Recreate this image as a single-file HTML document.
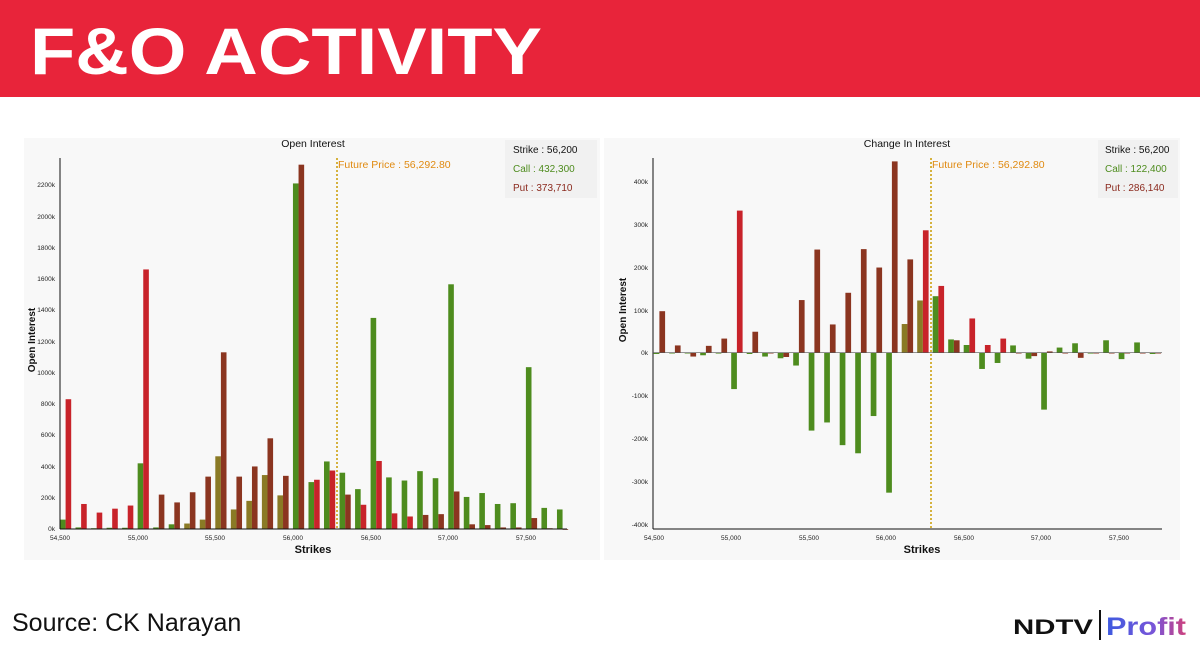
<!DOCTYPE html>
<html><head><meta charset="utf-8"><style>
html,body{margin:0;padding:0;background:#fff;}
svg{display:block;font-family:"Liberation Sans",sans-serif;}
</style></head><body>
<svg id="s" width="1200" height="650" viewBox="0 0 1200 650" xmlns="http://www.w3.org/2000/svg">
<rect x="0" y="0" width="1200" height="97" fill="#e8243a"/>
<text x="30" y="74" font-size="66" font-weight="bold" fill="#fff" textLength="512" lengthAdjust="spacingAndGlyphs">F&amp;O ACTIVITY</text>

<rect x="24" y="138" width="576" height="422" fill="#f8f8f8"/>
<rect x="604" y="138" width="576" height="422" fill="#f8f8f8"/>
<rect x="505" y="140" width="92" height="58" fill="#f1f1f1"/>
<rect x="1098" y="140" width="80" height="58" fill="#f1f1f1"/>

<text x="313" y="147" font-size="10.5" text-anchor="middle" fill="#111">Open Interest</text>
<text x="907" y="147" font-size="10.5" text-anchor="middle" fill="#111">Change In Interest</text>

<text x="513" y="153" font-size="10" fill="#111">Strike : 56,200</text>
<text x="513" y="172" font-size="10" fill="#4e8c1e">Call : 432,300</text>
<text x="513" y="191" font-size="10" fill="#8b2a1e">Put : 373,710</text>
<text x="1105" y="153" font-size="10" fill="#111">Strike : 56,200</text>
<text x="1105" y="172" font-size="10" fill="#4e8c1e">Call : 122,400</text>
<text x="1105" y="191" font-size="10" fill="#8b2a1e">Put : 286,140</text>

<text x="338" y="168" font-size="10.5" fill="#e08a10">Future Price : 56,292.80</text>
<text x="932" y="168" font-size="10.5" fill="#e08a10">Future Price : 56,292.80</text>

<g id="bars"></g>

<!-- left axes -->
<line x1="60" y1="158" x2="60" y2="529" stroke="#111" stroke-width="1"/>
<line x1="60" y1="529" x2="567" y2="529" stroke="#111" stroke-width="1"/>
<g font-size="6.5" fill="#222" text-anchor="end">
<text x="55" y="531">0k</text><text x="55" y="500">200k</text><text x="55" y="469">400k</text><text x="55" y="437">600k</text><text x="55" y="406">800k</text><text x="55" y="375">1000k</text><text x="55" y="344">1200k</text><text x="55" y="312">1400k</text><text x="55" y="281">1600k</text><text x="55" y="250">1800k</text><text x="55" y="219">2000k</text><text x="55" y="187">2200k</text>
</g>
<g font-size="6.5" fill="#222" text-anchor="middle">
<text x="60" y="540">54,500</text><text x="138" y="540">55,000</text><text x="215" y="540">55,500</text><text x="293" y="540">56,000</text><text x="371" y="540">56,500</text><text x="448" y="540">57,000</text><text x="526" y="540">57,500</text>
</g>
<text x="313" y="553" font-size="11" font-weight="bold" text-anchor="middle" fill="#111">Strikes</text>
<text transform="translate(35,340) rotate(-90)" font-size="10" font-weight="bold" text-anchor="middle" fill="#111">Open Interest</text>

<!-- right axes -->
<line x1="653" y1="158" x2="653" y2="529" stroke="#111" stroke-width="1"/>
<line x1="653" y1="529" x2="1162" y2="529" stroke="#111" stroke-width="1"/>
<line x1="653" y1="352.7" x2="1162" y2="352.7" stroke="#555" stroke-width="0.6"/>
<g font-size="6.5" fill="#222" text-anchor="end">
<text x="648" y="184">400k</text><text x="648" y="227">300k</text><text x="648" y="270">200k</text><text x="648" y="313">100k</text><text x="648" y="355">0k</text><text x="648" y="398">-100k</text><text x="648" y="441">-200k</text><text x="648" y="484">-300k</text><text x="648" y="527">-400k</text>
</g>
<g font-size="6.5" fill="#222" text-anchor="middle">
<text x="654" y="540">54,500</text><text x="731" y="540">55,000</text><text x="809" y="540">55,500</text><text x="886" y="540">56,000</text><text x="964" y="540">56,500</text><text x="1041" y="540">57,000</text><text x="1119" y="540">57,500</text>
</g>
<text x="922" y="553" font-size="11" font-weight="bold" text-anchor="middle" fill="#111">Strikes</text>
<text transform="translate(626,310) rotate(-90)" font-size="10" font-weight="bold" text-anchor="middle" fill="#111">Open Interest</text>

<line x1="337" y1="158" x2="337" y2="529" stroke="#c99a00" stroke-width="1.5" stroke-dasharray="2,2"/>
<line x1="931" y1="158" x2="931" y2="529" stroke="#c99a00" stroke-width="1.5" stroke-dasharray="2,2"/>

<text x="12" y="631" font-size="25" fill="#111">Source: CK Narayan</text>
<defs><linearGradient id="pg" x1="0" x2="1"><stop offset="0" stop-color="#3d5be0"/><stop offset="0.6" stop-color="#7a55d8"/><stop offset="1" stop-color="#d0407a"/></linearGradient></defs>
<text x="1013" y="634" font-size="21" font-weight="bold" fill="#111" textLength="80" lengthAdjust="spacingAndGlyphs">NDTV</text>
<rect x="1099" y="610" width="2" height="30" fill="#111"/>
<text x="1106" y="635" font-size="25" font-weight="bold" fill="url(#pg)" textLength="80" lengthAdjust="spacingAndGlyphs">Profit</text>
</svg>
<script>
(function(){
var ns="http://www.w3.org/2000/svg",g=document.getElementById("bars");
function r(x,y,w,h,c){var e=document.createElementNS(ns,"rect");e.setAttribute("x",x);e.setAttribute("y",y);e.setAttribute("width",w);e.setAttribute("height",Math.max(h,0.8));e.setAttribute("fill",c);g.appendChild(e);}
var oi=[[60,830],[10,160],[5,105],[8,130],[8,150],[420,1660],[10,220],[30,170],[35,235],[60,335],[465,1130],[125,335],[180,400],[345,580],[215,340],[2210,2330],[300,315],[432,374],[360,220],[255,155],[1350,435],[330,100],[310,80],[370,90],[325,95],[1565,240],[205,30],[230,25],[160,10],[165,10],[1035,70],[135,5],[125,0]];
var ch=[[-3,97],[0,17],[0,-9],[-6,16],[-2,33],[-85,332],[-3,49],[-9,0],[-13,-10],[-30,123],[-182,241],[-163,66],[-216,140],[-235,242],[-148,199],[-327,447],[67,218],[122,286],[132,156],[31,29],[18,80],[-38,18],[-24,33],[17,0],[-14,-8],[-133,3],[12,0],[22,-12],[-2,0],[29,0],[-15,0],[24,0],[-3,0]];
var G="#4e8c1e",O="#8a7a25",R="#c8232a",B="#8b3520";
for(var i=0;i<33;i++){
 var s=54500+i*100;
 var x=60+i*15.53, k=344/2200;
 var cc=(s>=55300&&s<=55900)?O:G;
 var pc=(s>=55100&&s<=56000)||s==56300||s>=56800?B:R;
 r(x,529-oi[i][0]*k,5.6,oi[i][0]*k,cc);
 r(x+5.6,529-oi[i][1]*k,5.6,oi[i][1]*k,pc);
 var x2=653.7+i*15.5,z=352.7,m=0.428;
 var cv=ch[i][0],pv=ch[i][1];
 var c2=(s==56100||s==56200)?O:G;
 var p2=(s==55000||s==56200||s==56300||s==56500||s==56600||s==56700)?R:B;
 if(cv>=0) r(x2,z-cv*m,5.7,cv*m,c2); else r(x2,z,5.7,-cv*m,c2);
 if(pv>=0) r(x2+5.7,z-pv*m,5.7,pv*m,p2); else r(x2+5.7,z,5.7,-pv*m,p2);
}
})();
</script>
</body></html>
